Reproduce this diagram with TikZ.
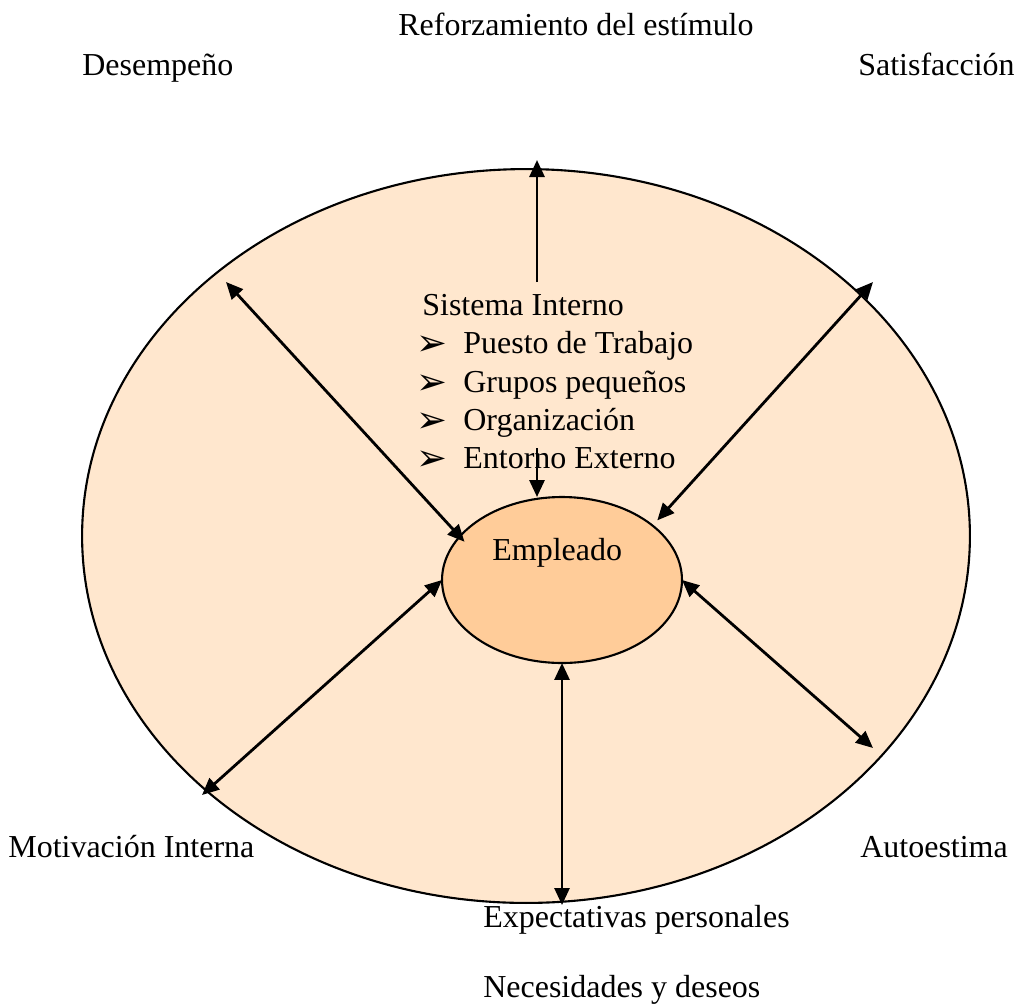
\documentclass[tikz,border=0pt]{standalone}
\usepackage{fontspec}
\setmainfont{Liberation Serif}
\newfontfamily\dingfont{DejaVu Sans}
\usetikzlibrary{arrows.meta}
\usetikzlibrary{shapes.geometric}
\definecolor{peach}{RGB}{255,231,206}
\definecolor{apricot}{RGB}{255,204,153}

\tikzset{
    lbl/.style={anchor=base west, inner sep=0pt, font=\fontsize{18.2pt}{22pt}\selectfont},
    bul/.style={anchor=base west, inner sep=0pt, font=\dingfont\fontsize{21pt}{24pt}\selectfont},
    oval/.style={ellipse, draw, line width=1.2pt, inner sep=0pt, outer sep=0pt},
    link/.style={line width=1.6pt, -{Triangle[length=0.34cm,width=0.3cm]}},
    dlink/.style={line width=1.6pt, {Triangle[length=0.34cm,width=0.3cm]}-{Triangle[length=0.34cm,width=0.3cm]}},
}

\begin{document}
\begin{tikzpicture}[x=0.02cm, y=-0.02cm]
    \useasboundingbox (0,0) rectangle (1017,1005);

    % ellipses
    \node[oval, fill=peach, minimum width=17.76cm, minimum height=14.68cm] (sys) at (526,536) {};
    \node[oval, fill=apricot, minimum width=4.8cm, minimum height=3.32cm] (emp) at (562,580) {};

    % outer labels
    \node[lbl] (refz) at (398,35) {Reforzamiento del estímulo};
    \node[lbl] (desm) at (82,75) {Desempeño};
    \node[lbl] (satf) at (858,75) {Satisfacción};
    \node[lbl] (motv) at (8,857) {Motivación Interna};
    \node[lbl] (autm) at (860,857) {Autoestima};
    \node[lbl] (expc) at (483,927) {Expectativas personales};
    \node[lbl] (necd) at (483,997) {Necesidades y deseos};

    % internal system
    \node[lbl] (sint) at (422,315) {Sistema Interno};
    \node[bul] (b1) at (416,355) {➢};
    \node[lbl] (pst) at (463,353) {Puesto de Trabajo};
    \node[bul] (b2) at (416,394) {➢};
    \node[lbl] (grp) at (463,392) {Grupos pequeños};
    \node[bul] (b3) at (416,432) {➢};
    \node[lbl] (org) at (463,430) {Organización};
    \node[bul] (b4) at (416,470) {➢};
    \node[lbl] (ent) at (463,468) {Entorno Externo};

    \node[lbl] (empl) at (492,560) {Empleado};

    % arrows
    \coordinate (upS) at (537,282);
    \coordinate (upE) at (537,160);
    \coordinate (dnS) at (537,448);
    \coordinate (ul) at (226,282);
    \coordinate (ur) at (873,282);
    \coordinate (lr) at (873,748);
    \coordinate (ll) at (202,795);
    \coordinate (btm) at (562,905);

    \draw[link] (upS) -- (upE);
    \draw[link] (dnS) -- (dnS |- emp.north);
    \draw[dlink, shorten >=-4pt] (ul) -- (emp.157);
    \draw[dlink, shorten >=4pt] (ur) -- (emp.31);
    \draw[dlink] (emp.east) -- (lr);
    \draw[dlink] (emp.west) -- (ll);
    \draw[dlink] (emp.south) -- (emp.south |- btm);
\end{tikzpicture}
\end{document}
